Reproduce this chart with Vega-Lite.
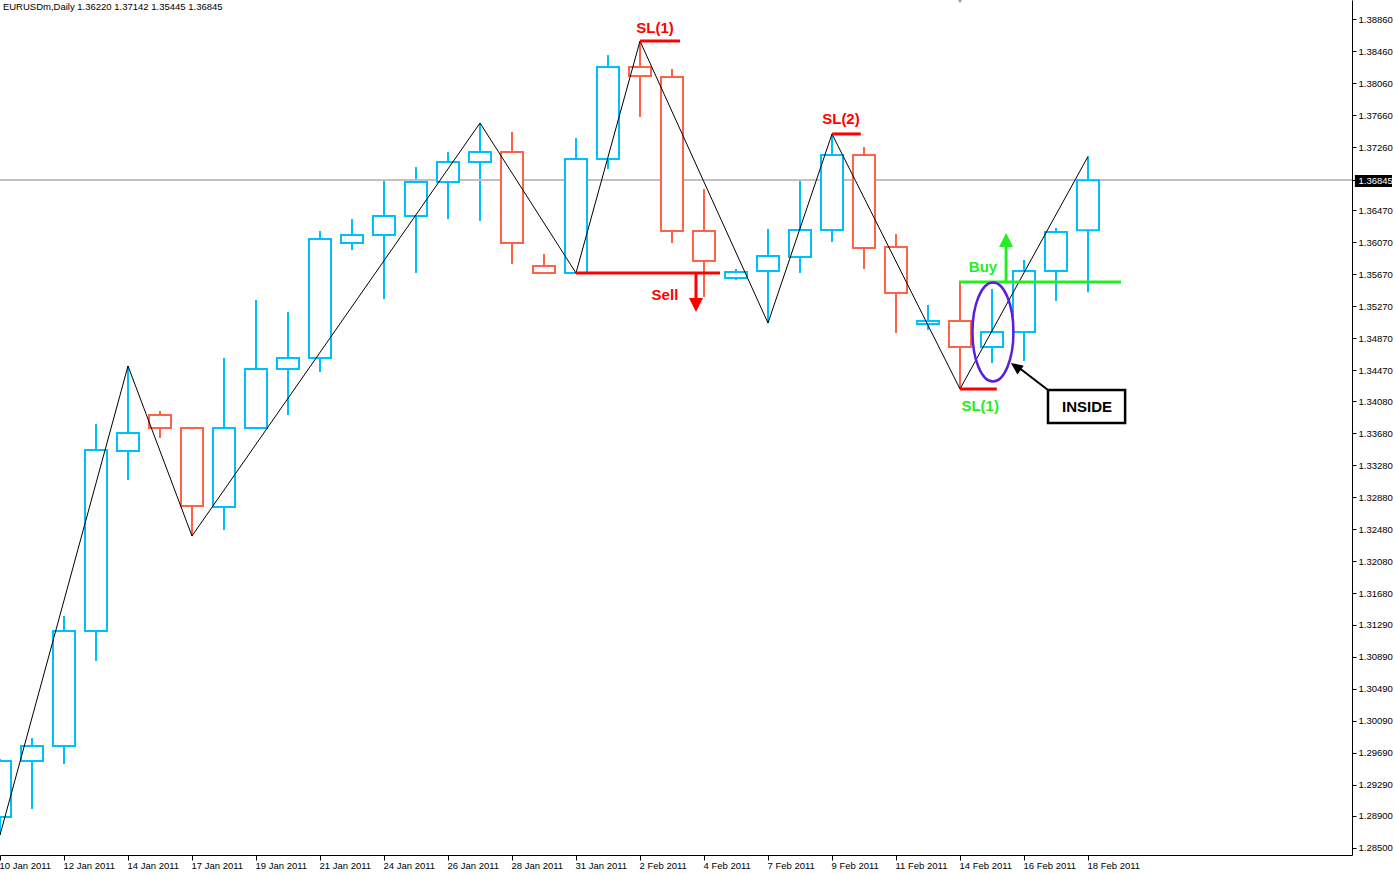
{
  "$schema": "https://vega.github.io/schema/vega-lite/v6.json",
  "width": 1352,
  "height": 855,
  "autosize": {"type": "none"},
  "padding": {"left": 0, "top": 0, "right": 42, "bottom": 18},
  "background": "white",
  "config": {"view": {"stroke": null}, "axis": {"labelOverlap": false, "labelFlush": false}, "scale": {"continuousPadding": 0}},
  "datasets": {
    "candles": [
      {"i": 0, "date": "2011-01-10", "o": 1.28885, "h": 1.29610, "l": 1.28660, "c": 1.29585, "dir": "up"},
      {"i": 1, "date": "2011-01-11", "o": 1.29585, "h": 1.29873, "l": 1.28985, "c": 1.29773, "dir": "up"},
      {"i": 2, "date": "2011-01-12", "o": 1.29773, "h": 1.31398, "l": 1.29548, "c": 1.31210, "dir": "up"},
      {"i": 3, "date": "2011-01-13", "o": 1.31210, "h": 1.33798, "l": 1.30835, "c": 1.33473, "dir": "up"},
      {"i": 4, "date": "2011-01-14", "o": 1.33460, "h": 1.34523, "l": 1.33098, "c": 1.33685, "dir": "up"},
      {"i": 5, "date": "2011-01-16", "o": 1.33910, "h": 1.33960, "l": 1.33623, "c": 1.33748, "dir": "down"},
      {"i": 6, "date": "2011-01-17", "o": 1.33748, "h": 1.33760, "l": 1.32398, "c": 1.32773, "dir": "down"},
      {"i": 7, "date": "2011-01-18", "o": 1.32760, "h": 1.34623, "l": 1.32473, "c": 1.33748, "dir": "up"},
      {"i": 8, "date": "2011-01-19", "o": 1.33748, "h": 1.35348, "l": 1.33735, "c": 1.34485, "dir": "up"},
      {"i": 9, "date": "2011-01-20", "o": 1.34485, "h": 1.35198, "l": 1.33910, "c": 1.34623, "dir": "up"},
      {"i": 10, "date": "2011-01-21", "o": 1.34623, "h": 1.36210, "l": 1.34448, "c": 1.36110, "dir": "up"},
      {"i": 11, "date": "2011-01-23", "o": 1.36060, "h": 1.36360, "l": 1.35973, "c": 1.36160, "dir": "up"},
      {"i": 12, "date": "2011-01-24", "o": 1.36160, "h": 1.36835, "l": 1.35360, "c": 1.36398, "dir": "up"},
      {"i": 13, "date": "2011-01-25", "o": 1.36398, "h": 1.37010, "l": 1.35685, "c": 1.36823, "dir": "up"},
      {"i": 14, "date": "2011-01-26", "o": 1.36823, "h": 1.37198, "l": 1.36360, "c": 1.37073, "dir": "up"},
      {"i": 15, "date": "2011-01-27", "o": 1.37073, "h": 1.37560, "l": 1.36335, "c": 1.37198, "dir": "up"},
      {"i": 16, "date": "2011-01-28", "o": 1.37198, "h": 1.37448, "l": 1.35798, "c": 1.36060, "dir": "down"},
      {"i": 17, "date": "2011-01-30", "o": 1.35773, "h": 1.35923, "l": 1.35685, "c": 1.35685, "dir": "down"},
      {"i": 18, "date": "2011-01-31", "o": 1.35685, "h": 1.37373, "l": 1.35685, "c": 1.37110, "dir": "up"},
      {"i": 19, "date": "2011-02-01", "o": 1.37110, "h": 1.38410, "l": 1.36985, "c": 1.38260, "dir": "up"},
      {"i": 20, "date": "2011-02-02", "o": 1.38260, "h": 1.38585, "l": 1.37635, "c": 1.38148, "dir": "down"},
      {"i": 21, "date": "2011-02-03", "o": 1.38135, "h": 1.38235, "l": 1.36060, "c": 1.36210, "dir": "down"},
      {"i": 22, "date": "2011-02-04", "o": 1.36210, "h": 1.36735, "l": 1.35385, "c": 1.35835, "dir": "down"},
      {"i": 23, "date": "2011-02-06", "o": 1.35623, "h": 1.35735, "l": 1.35598, "c": 1.35698, "dir": "up"},
      {"i": 24, "date": "2011-02-07", "o": 1.35710, "h": 1.36235, "l": 1.35060, "c": 1.35898, "dir": "up"},
      {"i": 25, "date": "2011-02-08", "o": 1.35885, "h": 1.36860, "l": 1.35685, "c": 1.36223, "dir": "up"},
      {"i": 26, "date": "2011-02-09", "o": 1.36223, "h": 1.37423, "l": 1.36073, "c": 1.37160, "dir": "up"},
      {"i": 27, "date": "2011-02-10", "o": 1.37160, "h": 1.37260, "l": 1.35735, "c": 1.35998, "dir": "down"},
      {"i": 28, "date": "2011-02-11", "o": 1.36010, "h": 1.36173, "l": 1.34935, "c": 1.35435, "dir": "down"},
      {"i": 29, "date": "2011-02-13", "o": 1.35048, "h": 1.35285, "l": 1.34973, "c": 1.35085, "dir": "up"},
      {"i": 30, "date": "2011-02-14", "o": 1.35085, "h": 1.35573, "l": 1.34235, "c": 1.34760, "dir": "down"},
      {"i": 31, "date": "2011-02-15", "o": 1.34760, "h": 1.35485, "l": 1.34560, "c": 1.34948, "dir": "up"},
      {"i": 32, "date": "2011-02-16", "o": 1.34948, "h": 1.35848, "l": 1.34585, "c": 1.35710, "dir": "up"},
      {"i": 33, "date": "2011-02-17", "o": 1.35710, "h": 1.36248, "l": 1.35335, "c": 1.36198, "dir": "up"},
      {"i": 34, "date": "2011-02-18", "o": 1.36220, "h": 1.37142, "l": 1.35445, "c": 1.36845, "dir": "up"}
    ],
    "zigzag": [
      {"i": 0, "p": 1.28660},
      {"i": 4, "p": 1.34523},
      {"i": 6, "p": 1.32398},
      {"i": 15, "p": 1.37560},
      {"i": 18, "p": 1.35685},
      {"i": 20, "p": 1.38585},
      {"i": 24, "p": 1.35060},
      {"i": 26, "p": 1.37423},
      {"i": 30, "p": 1.34235},
      {"i": 34, "p": 1.37142}
    ],
    "levels": [
      {"kind": "red", "x": 20, "x2": 21.25, "y": 1.38585, "y2": 1.38585},
      {"kind": "red", "x": 18, "x2": 22.5, "y": 1.35685, "y2": 1.35685},
      {"kind": "red", "x": 26, "x2": 26.9, "y": 1.37423, "y2": 1.37423},
      {"kind": "red", "x": 30, "x2": 31.15, "y": 1.34235, "y2": 1.34235},
      {"kind": "green", "x": 29.97, "x2": 35.03, "y": 1.35573, "y2": 1.35573},
      {"kind": "red", "x": 21.75, "x2": 21.75, "y": 1.35685, "y2": 1.35335},
      {"kind": "green", "x": 31.44, "x2": 31.44, "y": 1.35573, "y2": 1.36010}
    ],
    "pointer": [
      {"kind": "black", "x": 32.75, "x2": 31.70, "y": 1.342225, "y2": 1.34545}
    ],
    "heads": [
      {"kind": "red", "x": 21.75, "y": 1.351975, "dirAngle": 180},
      {"kind": "green", "x": 31.44, "y": 1.36185, "dirAngle": 0}
    ],
    "labels": [
      {"kind": "red", "x": 20.47, "y": 1.38748, "text": "SL(1)"},
      {"kind": "red", "x": 20.78, "y": 1.35410, "text": "Sell"},
      {"kind": "red", "x": 26.28, "y": 1.37610, "text": "SL(2)"},
      {"kind": "green", "x": 30.72, "y": 1.35760, "text": "Buy"},
      {"kind": "green", "x": 30.63, "y": 1.34022, "text": "SL(1)"},
      {"kind": "black", "x": 33.97, "y": 1.34010, "text": "INSIDE"}
    ]
  },
  "data": {"name": "candles"},
  "layer": [
    {
      "mark": {"type": "rule", "strokeWidth": 2},
      "encoding": {
        "x": {"field": "i", "type": "quantitative", "scale": {"domain": [0, 42.25], "nice": false, "zero": false, "padding": 0},
          "axis": {
            "values": [0, 2, 4, 6, 8, 10, 12, 14, 16, 18, 20, 22, 24, 26, 28, 30, 32, 34],
            "tickCount": 40,
            "labelExpr": "['10 Jan 2011','12 Jan 2011','14 Jan 2011','17 Jan 2011','19 Jan 2011','21 Jan 2011','24 Jan 2011','26 Jan 2011','28 Jan 2011','31 Jan 2011','2 Feb 2011','4 Feb 2011','7 Feb 2011','9 Feb 2011','11 Feb 2011','14 Feb 2011','16 Feb 2011','18 Feb 2011'][datum.value / 2]",
            "title": null, "grid": false, "labelAlign": "left", "labelBaseline": "top", "labelPadding": 0, "labelOffset": -1,
            "labelFont": "Liberation Sans", "labelFontSize": 9.5, "labelColor": "black", "labelFlush": false, "labelOverlap": false,
            "tickSize": 5, "tickColor": "black", "domainColor": "black", "domainWidth": 1, "zindex": 1
          }},
        "y": {"field": "l", "type": "quantitative", "scale": {"domain": [1.2841, 1.390975], "nice": false, "zero": false, "padding": 0},
          "axis": {
            "orient": "right",
            "values": [1.3886, 1.3846, 1.3806, 1.3766, 1.3726, 1.36845, 1.3647, 1.3607, 1.3567, 1.3527, 1.3487, 1.3447, 1.3408, 1.3368, 1.3328, 1.3288, 1.3248, 1.3208, 1.3168, 1.3129, 1.3089, 1.3049, 1.3009, 1.2969, 1.2929, 1.289, 1.285],
            "tickCount": 60,
            "format": ".5f", "title": null, "grid": false, "labelPadding": 2,
            "labelFont": "Liberation Sans", "labelFontSize": 9.5,
            "labelColor": {"condition": {"test": "abs(datum.value - 1.36845) < 0.000001", "value": "white"}, "value": "black"},
            "tickSize": 4, "tickColor": "black", "domainColor": "black", "domainWidth": 1, "labelOverlap": false, "labelFlush": false, "zindex": 2
          }},
        "y2": {"field": "h"},
        "color": {"field": "dir", "type": "nominal", "legend": null,
          "scale": {"domain": ["up", "down", "red", "green", "black", "purple"], "range": ["#00BFFF", "#FF6347", "#FF0000", "#22EE22", "#000000", "#5A1EE0"]}}
      }
    },
    {
      "mark": {"type": "rule", "color": "#C0C0C0", "strokeWidth": 1},
      "encoding": {"y": {"datum": 1.36845, "type": "quantitative"}}
    },
    {
      "mark": {"type": "bar", "size": 22, "fill": "white", "strokeWidth": 2},
      "encoding": {
        "x": {"field": "i", "type": "quantitative"},
        "y": {"field": "o", "type": "quantitative"},
        "y2": {"field": "c"},
        "stroke": {"field": "dir", "type": "nominal", "legend": null,
          "scale": {"domain": ["up", "down", "red", "green", "black", "purple"], "range": ["#00BFFF", "#FF6347", "#FF0000", "#22EE22", "#000000", "#5A1EE0"]}}
      }
    },
    {
      "data": {"name": "zigzag"},
      "mark": {"type": "line", "color": "black", "strokeWidth": 1},
      "encoding": {
        "x": {"field": "i", "type": "quantitative"},
        "y": {"field": "p", "type": "quantitative"}
      }
    },
    {
      "data": {"name": "levels"},
      "mark": {"type": "rule", "strokeWidth": 3},
      "encoding": {
        "x": {"field": "x", "type": "quantitative"},
        "x2": {"field": "x2"},
        "y": {"field": "y", "type": "quantitative"},
        "y2": {"field": "y2"},
        "color": {"field": "kind", "type": "nominal", "legend": null,
          "scale": {"domain": ["up", "down", "red", "green", "black", "purple"], "range": ["#00BFFF", "#FF6347", "#FF0000", "#22EE22", "#000000", "#5A1EE0"]}}
      }
    },
    {
      "data": {"name": "heads"},
      "mark": {"type": "point", "filled": true, "opacity": 1, "shape": "M 0 0 L -0.5 1 L 0.5 1 Z", "size": 784},
      "encoding": {
        "x": {"field": "x", "type": "quantitative"},
        "y": {"field": "y", "type": "quantitative"},
        "angle": {"field": "dirAngle", "type": "quantitative", "scale": null},
        "color": {"field": "kind", "type": "nominal", "legend": null,
          "scale": {"domain": ["up", "down", "red", "green", "black", "purple"], "range": ["#00BFFF", "#FF6347", "#FF0000", "#22EE22", "#000000", "#5A1EE0"]}}
      }
    },
    {
      "data": {"values": [{"x": 31.03, "y": 1.349475}]},
      "mark": {"type": "point", "filled": false, "opacity": 1, "color": "#5A1EE0", "strokeWidth": 2.5,
        "shape": "M -0.414 0 A 0.414 1 0 1 0 0.414 0 A 0.414 1 0 1 0 -0.414 0 Z", "size": 9801},
      "encoding": {
        "x": {"field": "x", "type": "quantitative"},
        "y": {"field": "y", "type": "quantitative"}
      }
    },
    {
      "data": {"name": "pointer"},
      "mark": {"type": "rule", "strokeWidth": 2, "color": "black"},
      "encoding": {
        "x": {"field": "x", "type": "quantitative"},
        "x2": {"field": "x2"},
        "y": {"field": "y", "type": "quantitative"},
        "y2": {"field": "y2"}
      }
    },
    {
      "data": {"values": [{"x": 31.59, "y": 1.3456}]},
      "mark": {"type": "point", "filled": true, "opacity": 1, "color": "black", "shape": "M 0 0 L -0.45 1 L 0.45 1 Z", "size": 576, "angle": 306},
      "encoding": {
        "x": {"field": "x", "type": "quantitative"},
        "y": {"field": "y", "type": "quantitative"}
      }
    },
    {
      "data": {"values": [{"x": 32.75, "x2": 35.16, "y": 1.342225, "y2": 1.3381}]},
      "mark": {"type": "rect", "fill": "white", "stroke": "black", "strokeWidth": 2.5},
      "encoding": {
        "x": {"field": "x", "type": "quantitative"},
        "x2": {"field": "x2"},
        "y": {"field": "y", "type": "quantitative"},
        "y2": {"field": "y2"}
      }
    },
    {
      "data": {"name": "labels"},
      "mark": {"type": "text", "font": "Liberation Sans", "fontSize": 15, "fontWeight": "bold", "align": "center", "baseline": "middle"},
      "encoding": {
        "x": {"field": "x", "type": "quantitative"},
        "y": {"field": "y", "type": "quantitative"},
        "text": {"field": "text"},
        "color": {"field": "kind", "type": "nominal", "legend": null,
          "scale": {"domain": ["up", "down", "red", "green", "black", "purple"], "range": ["#00BFFF", "#FF6347", "#FF0000", "#22EE22", "#000000", "#5A1EE0"]}}
      }
    },
    {
      "data": {"values": [{"x": 30, "y": 1.390975}]},
      "mark": {"type": "point", "filled": true, "opacity": 1, "color": "#A0A0A0", "shape": "triangle-down", "size": 60},
      "encoding": {
        "x": {"field": "x", "type": "quantitative"},
        "y": {"field": "y", "type": "quantitative"}
      }
    },
    {
      "data": {"values": [{"x": 42.34, "x2": 43.5, "y": 1.3691, "y2": 1.3676}]},
      "mark": {"type": "rect", "fill": "black", "clip": false},
      "encoding": {
        "x": {"field": "x", "type": "quantitative"},
        "x2": {"field": "x2"},
        "y": {"field": "y", "type": "quantitative"},
        "y2": {"field": "y2"}
      }
    },
    {
      "data": {"values": [{"x": 0.09, "y": 1.3901, "text": "EURUSDm,Daily  1.36220 1.37142 1.35445 1.36845"}]},
      "mark": {"type": "text", "font": "Liberation Sans", "fontSize": 9.5, "align": "left", "baseline": "middle", "color": "black"},
      "encoding": {
        "x": {"field": "x", "type": "quantitative"},
        "y": {"field": "y", "type": "quantitative"},
        "text": {"field": "text"}
      }
    }
  ]
}
